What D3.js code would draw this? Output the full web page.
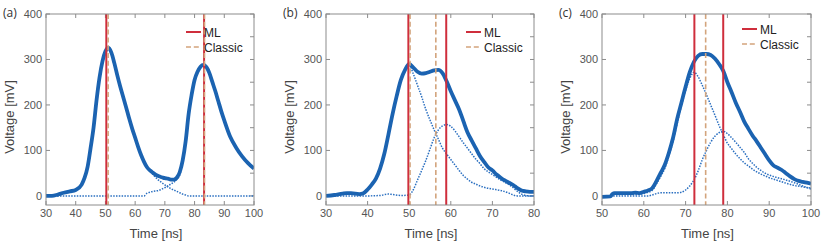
<!DOCTYPE html>
<html lang="en">
<head>
  <meta charset="UTF-8">
  <title>pulse decomposition</title>
  <style>
    body { margin: 0; background: #fff; }
    text { font-family: "Liberation Sans", Arial, sans-serif; }
    .tick-label { font-size: 11px; fill: #555; }
    .axis-label { font-size: 13px; fill: #444; }
    .legend-text { font-size: 12px; fill: #222; }
    .panel-label { font-family: "Open Sans", sans-serif; font-size: 12px; fill: #333; }
    .frame { fill: none; stroke: #8c8c8c; stroke-width: 1; }
    .tick { stroke: #8c8c8c; stroke-width: 1; }
    .sum { fill: none; stroke: #1b63b1; stroke-width: 3.8; stroke-linejoin: round; }
    .pulse { fill: none; stroke: #2a6fc0; stroke-width: 1.5; stroke-dasharray: 1.5,1.3; }
    .ml { stroke: #cf2e3c; stroke-width: 2; }
    .classic { stroke: #d3a47c; stroke-width: 1.6; stroke-dasharray: 5,2.8; }
  </style>
</head>
<body>
  <svg width="830" height="244"></svg>
  <script src="https://cdn.jsdelivr.net/npm/d3@7"></script>
  <script>
    // ---- data (time in ns, voltage in mV) ----
    var aSumT = [30,32,34,36,38,40,42,43,44,45,46,47,48,49,50,51,52,53,54,55,56,57,58,59,60,61,62,63,64,65,66,67,68,69,70,71,72,73,74,75,76,77,78,79,80,81,82,83,84,85,86,87,88,89,90,92,94,96,98,100];
    var aSumV = [0,0,3,7,10,13,25,40,64,105,150,210,260,296,318,326,315,292,265,240,217,194,170,148,128,108,90,75,63,56,51,46,43,41,39,38,36,36,40,52,78,120,180,222,255,273,284,288,283,270,250,230,208,186,166,130,106,87,72,60];
    var aP1T = [30,32,34,36,38,40,42,43,44,45,46,47,48,49,50,51,52,53,54,55,56,57,58,59,60,61,62,63,64,65,66,67,68,69,70,71,72,73,74,75,76,77,78,80,85,90,95,100];
    var aP1V = [0,0,3,7,10,13,25,40,64,105,150,210,260,296,318,326,315,292,265,240,217,194,170,148,128,108,90,75,63,54,47,40,34,29,24,20,16,13,10,7,4,2,0,0,0,0,0,0];
    var aP2T = [30,40,50,60,63,64,65,66,67,68,69,70,71,72,73,74,75,76,77,78,79,80,81,82,83,84,85,86,87,88,89,90,92,94,96,98,100];
    var aP2V = [0,0,0,0,0,6,8,10,11,12,15,18,22,26,30,36,46,76,118,180,222,255,273,284,288,283,270,250,230,208,186,166,130,106,87,72,60];
    var aML = [50.3, 83.2];
    var aClassic = [50.9, 83.3];

    var bSumT = [30,32,34,35,36,38,39,40,41,42,43,44,45,46,47,48,49,50,51,52,53,54,55,56,57,58,59,60,61,62,63,64,65,66,67,68,69,70,71,72,73,74,75,76,77,78,79,80];
    var bSumV = [0,2,5,6,6,4,6,14,25,38,60,92,135,180,220,255,277,290,282,273,269,270,273,276,277,270,252,230,210,190,165,140,122,105,88,75,63,56,47,40,34,29,24,17,12,10,9,9];
    var bP1T = [30,32,34,35,36,38,39,40,41,42,43,44,45,46,47,48,49,50,51,52,53,54,55,56,57,58,59,60,61,62,63,64,65,66,67,68,70,72,74,75,76,78,80];
    var bP1V = [0,2,5,6,6,4,6,14,25,38,60,90,132,177,218,253,275,288,268,243,218,190,167,145,125,105,92,80,68,56,45,37,30,26,22,19,15,12,6,2,0,0,0];
    var bP2T = [30,40,43,45,46,48,50,51,52,53,54,55,56,57,58,59,60,61,62,63,64,65,66,67,68,69,70,71,72,73,74,75,76,77,78,79,80];
    var bP2V = [0,0,1,4,3,1,2,14,35,56,78,103,128,145,154,157,153,143,130,117,105,93,81,71,60,53,47,41,35,30,25,18,10,4,1,0,0];
    var bML = [49.8, 58.9];
    var bClassic = [50.2, 56.4];

    var cSumT = [50,52,52.5,53,55,57,58,59,60,61,62,63,64,65,66,67,68,69,70,71,72,73,74,75,76,77,78,79,80,81,82,83,84,85,86,87,88,89,90,91,92,93,94,95,96,97,98,99,100];
    var cSumV = [-2,-1,4,6,6,6,7,6,9,12,17,32,50,68,95,128,170,205,240,272,295,308,312,312,310,302,290,275,250,228,205,185,164,148,133,120,106,92,78,67,62,57,50,43,37,33,31,29,27];
    var cP1T = [50,52,53,57,60,61,62,63,64,65,66,67,68,69,70,71,72,73,74,75,76,77,78,79,80,81,82,83,84,85,86,87,88,89,90,92,94,96,98,100];
    var cP1V = [0,0,3,3,5,8,12,26,42,60,88,120,160,198,232,258,272,262,243,222,200,178,155,135,116,104,92,82,73,66,59,53,48,44,40,34,28,23,20,17];
    var cP2T = [50,61,62,63,64,66,68,69,70,71,72,73,74,75,76,77,78,79,80,81,82,83,84,85,86,87,88,89,90,92,94,96,98,100];
    var cP2V = [0,0,2,5,7,7,7,8,13,22,35,55,80,100,118,131,139,142,137,128,118,107,96,82,72,63,56,50,46,40,35,29,22,15];
    var cML = [72.1, 79.0];
    var cClassic = [74.8];

    var yTicks = [0, 100, 200, 300, 400];

    function zip(t, v) { return t.map(function(d, i) { return [d, v[i]]; }); }

    var panels = [
      {label: "(a)", left: 46, right: 254, domain: [30, 100], legendY: 32,
       sum: zip(aSumT, aSumV), pulses: [zip(aP1T, aP1V), zip(aP2T, aP2V)], ml: aML, classic: aClassic},
      {label: "(b)", left: 326, right: 534, domain: [30, 80], legendY: 32,
       sum: zip(bSumT, bSumV), pulses: [zip(bP1T, bP1V), zip(bP2T, bP2V)], ml: bML, classic: bClassic},
      {label: "(c)", left: 602, right: 811, domain: [50, 100], legendY: 29,
       sum: zip(cSumT, cSumV), pulses: [zip(cP1T, cP1V), zip(cP2T, cP2V)], ml: cML, classic: cClassic}
    ];

    var svg = d3.select("svg"),
      plotTop = 14, plotBottom = 205, tickLen = 4;

    var y = d3.scaleLinear().domain([-20, 400]).range([plotBottom, plotTop]);

    panels.forEach(function(p, idx) {
      var x = d3.scaleLinear().domain(p.domain).range([p.left, p.right]);
      var g = svg.append("g");
      var clipId = "clip" + idx;

      g.append("clipPath").attr("id", clipId)
        .append("rect")
        .attr("x", p.left).attr("y", plotTop)
        .attr("width", p.right - p.left).attr("height", plotBottom - plotTop);

      var xTicks = d3.range(p.domain[0], p.domain[1] + 0.1, 10);

      // ticks (inside)
      g.selectAll(".xb").data(xTicks).enter().append("line")
        .attr("class", "tick")
        .attr("x1", function(d) { return x(d); }).attr("x2", function(d) { return x(d); })
        .attr("y1", plotBottom).attr("y2", plotBottom - tickLen);
      g.selectAll(".xt").data(xTicks).enter().append("line")
        .attr("class", "tick")
        .attr("x1", function(d) { return x(d); }).attr("x2", function(d) { return x(d); })
        .attr("y1", plotTop).attr("y2", plotTop + tickLen);
      g.selectAll(".yl").data(yTicks).enter().append("line")
        .attr("class", "tick")
        .attr("x1", p.left).attr("x2", p.left + tickLen)
        .attr("y1", function(d) { return y(d); }).attr("y2", function(d) { return y(d); });
      g.selectAll(".yr").data(d3.range(0, 401, 50)).enter().append("line")
        .attr("class", "tick")
        .attr("x1", p.right).attr("x2", p.right - tickLen)
        .attr("y1", function(d) { return y(d); }).attr("y2", function(d) { return y(d); });

      // tick labels
      g.selectAll(".xl").data(xTicks).enter().append("text")
        .attr("class", "tick-label")
        .attr("x", function(d) { return x(d); })
        .attr("y", plotBottom + 12)
        .attr("text-anchor", "middle")
        .text(function(d) { return d; });
      g.selectAll(".yll").data(yTicks).enter().append("text")
        .attr("class", "tick-label")
        .attr("x", p.left - 4)
        .attr("y", function(d) { return y(d) + 4; })
        .attr("text-anchor", "end")
        .text(function(d) { return d; });

      var plot = g.append("g").attr("clip-path", "url(#" + clipId + ")");
      var line = d3.line()
        .x(function(d) { return x(d[0]); })
        .y(function(d) { return y(d[1]); })
        .curve(d3.curveMonotoneX);

      plot.selectAll(".pulse").data(p.pulses).enter().append("path")
        .attr("class", "pulse")
        .attr("d", line);

      plot.append("path").datum(p.sum)
        .attr("class", "sum")
        .attr("d", line);

      plot.selectAll(".ml").data(p.ml).enter().append("line")
        .attr("class", "ml")
        .attr("x1", function(d) { return x(d); }).attr("x2", function(d) { return x(d); })
        .attr("y1", plotTop).attr("y2", plotBottom);
      plot.selectAll(".classic").data(p.classic).enter().append("line")
        .attr("class", "classic")
        .attr("x1", function(d) { return x(d); }).attr("x2", function(d) { return x(d); })
        .attr("y1", plotTop).attr("y2", plotBottom);

      // frame
      g.append("rect").attr("class", "frame")
        .attr("x", p.left).attr("y", plotTop)
        .attr("width", p.right - p.left).attr("height", plotBottom - plotTop);

      // legend
      var lx = p.left + 140;
      g.append("line").attr("class", "ml")
        .attr("x1", lx).attr("x2", lx + 15)
        .attr("y1", p.legendY).attr("y2", p.legendY);
      g.append("line").attr("class", "classic")
        .attr("x1", lx).attr("x2", lx + 15)
        .attr("y1", p.legendY + 15).attr("y2", p.legendY + 15);
      g.append("text").attr("class", "legend-text")
        .attr("x", lx + 18).attr("y", p.legendY + 4.5).text("ML");
      g.append("text").attr("class", "legend-text")
        .attr("x", lx + 18).attr("y", p.legendY + 19.5).text("Classic");

      // axis labels
      g.append("text").attr("class", "axis-label")
        .attr("x", (p.left + p.right) / 2 + (idx === 0 ? 6 : 1))
        .attr("y", 238)
        .attr("text-anchor", "middle")
        .text("Time [ns]");
      g.append("text").attr("class", "axis-label")
        .attr("transform", "translate(" + (p.left - 32) + "," + 117 + ") rotate(-90)")
        .attr("text-anchor", "middle")
        .text("Voltage [mV]");

      g.append("text").attr("class", "panel-label")
        .attr("x", p.left - 43).attr("y", 17)
        .text(p.label);
    });
  </script>
</body>
</html>
